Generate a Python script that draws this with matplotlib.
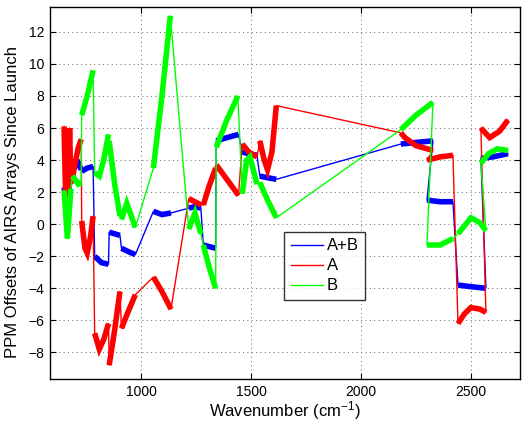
import numpy as np
import matplotlib
matplotlib.use("Agg")
import matplotlib.pyplot as plt
from matplotlib.lines import Line2D

plt.rcParams['font.family'] = ['Liberation Sans', 'DejaVu Sans']
plt.rcParams['mathtext.default'] = 'regular'

# ---- data: key points per detector module (segment index) ----
ab_seg = [0,0,0,0, 1,1,1,1, 2,2,2, 3,3,3, 4,4,4, 5,5,5, 6,6,6, 7,7,7, 8,8,8, 9,9,9,
          10,10,10, 11,11,11, 12,12,12, 13,13,13, 14,14,14, 15,15,15]
ab_wn = [650, 662, 672, 681, 687, 700, 715, 728, 730, 755, 782, 789, 820, 852,
         855, 880, 904, 911, 940, 974, 1056, 1095, 1136, 1217, 1245, 1272,
         1283, 1310, 1339, 1342, 1390, 1443, 1460, 1490, 1527, 1540, 1575, 1615,
         2181, 2250, 2327, 2300, 2360, 2418, 2441, 2500, 2568, 2545, 2600, 2668]
ab_val = [2.3, 1.3, 2.0, 1.8, 3.3, 3.6, 3.8, 3.4, 3.3, 3.5, 3.6, -2.0, -2.4, -2.5,
          -0.5, -0.6, -0.7, -1.5, -1.7, -1.9, 0.8, 0.6, 0.7, 1.0, 1.1, 1.0,
          -1.3, -1.4, -1.5, 5.2, 5.4, 5.6, 4.5, 4.4, 4.3, 3.0, 2.9, 2.8,
          5.0, 5.1, 5.2, 1.5, 1.4, 1.4, -3.8, -3.9, -4.0, 4.1, 4.2, 4.4]

a_seg = [0,0,0,0,0,0, 1,1,1,1, 2,2,2,2,2, 3,3,3,3, 4,4,4, 5,5,5, 6,6,6, 7,7,7, 8,8,8,
         9,9,9, 10,10,10, 11,11,11,11,11, 12,12,12,12, 13,13,13, 14,14,14,14,14,
         15,15,15,15]
a_wn = [650, 654, 660, 668, 675, 681, 687, 700, 715, 728, 730, 745, 755, 770, 782,
        789, 810, 830, 852, 855, 880, 904, 911, 940, 974, 1056, 1095, 1136,
        1217, 1245, 1272, 1283, 1310, 1339, 1342, 1390, 1443, 1460, 1490, 1527,
        1540, 1560, 1575, 1595, 1615, 2181, 2200, 2250, 2327, 2300, 2360, 2418,
        2441, 2470, 2500, 2540, 2568, 2545, 2585, 2630, 2668]
a_val = [6.1, 3.5, 0.5, 1.5, 6.0, 2.5, 2.8, 3.8, 4.8, 5.3, 0.2, -1.5, -1.8, -0.8, 0.5,
         -6.8, -7.8, -7.2, -6.2, -8.8, -6.6, -4.2, -6.5, -5.5, -4.4, -3.3, -4.2, -5.3,
         1.6, 1.4, 1.2, 1.2, 2.4, 3.5, 3.7, 2.8, 1.8, 5.0, 4.5, 4.2,
         5.2, 4.0, 3.4, 4.5, 7.4, 5.7, 5.4, 4.9, 4.6, 4.0, 4.2, 4.3,
         -6.2, -5.6, -5.2, -5.3, -5.5, 6.0, 5.4, 5.8, 6.5]

b_seg = [0,0,0, 1,1,1,1, 2,2,2, 3,3,3,3, 4,4,4, 5,5,5, 6,6,6, 7,7,7, 8,8,8, 9,9,9,
         10,10,10,10, 11,11,11, 12,12,12, 13,13,13, 14,14,14,14, 15,15,15,15]
b_wn = [650, 665, 681, 687, 700, 715, 728, 730, 755, 782, 789, 810, 830, 852,
        855, 880, 904, 911, 935, 974, 1056, 1095, 1133, 1217, 1245, 1272,
        1283, 1310, 1339, 1342, 1390, 1440, 1460, 1480, 1495, 1527, 1540, 1575, 1615,
        2181, 2250, 2327, 2300, 2360, 2418, 2441, 2500, 2540, 2568, 2545, 2580, 2620, 2668]
b_val = [2.1, -0.9, 2.2, 3.0, 2.8, 2.5, 2.6, 6.8, 8.0, 9.6, 3.2, 3.0, 4.0, 5.6,
         5.2, 2.5, 0.5, 0.3, 1.3, -0.2, 3.5, 8.0, 13.0, -0.3, 0.7, -0.6,
         -1.3, -2.7, -4.0, 4.8, 6.5, 8.0, 1.9, 4.0, 4.2, 2.5, 2.6, 1.5, 0.4,
         5.9, 6.8, 7.6, -1.3, -1.3, -0.9, -0.6, 0.4, 0.1, -0.4, 3.8, 4.4, 4.7, 4.6]

series = [("A+B", ab_wn, ab_val, ab_seg, (0, 0, 1)),
          ("A", a_wn, a_val, a_seg, (1, 0, 0)),
          ("B", b_wn, b_val, b_seg, (0, 1, 0))]

fig = plt.figure(figsize=(5.22, 4.24), dpi=100)
ax = fig.add_axes([0.0958, 0.1054, 0.9004, 0.878])

handles = []
for name, wn, val, seg, col in series:
    wn = np.asarray(wn, float); val = np.asarray(val, float); seg = np.asarray(seg)
    ax.plot(wn, val, color=col, lw=1.0, zorder=2)
    for s in np.unique(seg):
        m = seg == s
        ax.plot(wn[m], val[m], color=col, lw=4.0, solid_capstyle='butt',
                solid_joinstyle='miter', zorder=2)
    handles.append(Line2D([0], [0], color=col, lw=1.0, label=name))

ax.set_xlim(586, 2723)
ax.set_ylim(-9.68, 13.55)
ax.set_xticks([1000, 1500, 2000, 2500])
ax.set_yticks(np.arange(-8, 13, 2))
ax.tick_params(direction='in', top=True, right=True, length=4, width=0.8,
               labelsize=10, colors='black', pad=4)
ax.grid(True, linestyle=(0, (1, 3.5)), color='0.4', lw=0.7)
for sp in ax.spines.values():
    sp.set_linewidth(1.0)

ax.set_xlabel('Wavenumber (cm$^{-1}$)', fontsize=12)
ax.set_ylabel('PPM Offsets of AIRS Arrays Since Launch', fontsize=12)
ax.xaxis.set_label_coords(0.5, -0.054)
ax.yaxis.set_label_coords(-0.064, 0.475)

leg = ax.legend(handles=handles, loc='upper left', bbox_to_anchor=(0.4985, 0.3965),
                borderaxespad=0, fontsize=12, frameon=True, fancybox=False,
                edgecolor='black', handlelength=1.9, borderpad=0.4,
                labelspacing=0.3, handletextpad=0.25)
leg.get_frame().set_linewidth(1.0)

fig.savefig('out.png', dpi=100)
